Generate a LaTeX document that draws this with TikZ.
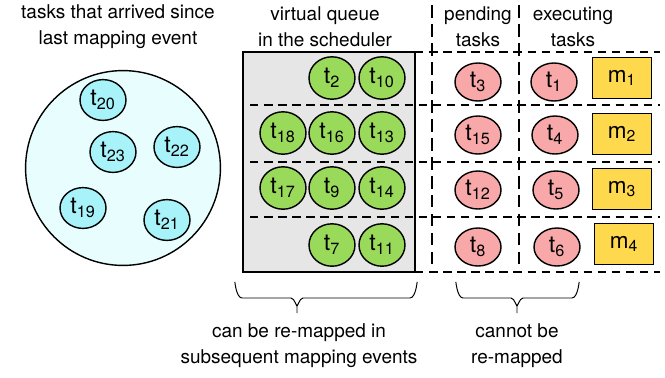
\documentclass[tikz,border=0pt]{standalone}
\usepackage{fontspec}
\setmainfont{TeX Gyre Heros}
\usetikzlibrary{shapes.geometric, decorations.pathreplacing, positioning}

\definecolor{newcyan}{HTML}{A8F3FA}
\definecolor{poolcyan}{HTML}{E8FDFD}
\definecolor{queuegreen}{HTML}{9ADA5B}
\definecolor{taskred}{HTML}{F8A8A8}
\definecolor{machyellow}{HTML}{FFD94D}
\definecolor{queuegray}{HTML}{E6E6E6}

\tikzstyle{label} = [align=center, font=\fontsize{13.5}{18.5}\selectfont]
\tikzstyle{task} = [ellipse, draw=black, line width=1pt, minimum width=1.15cm, minimum height=1.02cm, inner sep=0pt, font=\fontsize{16.5}{18}\selectfont]
\tikzstyle{newtask} = [task, fill=newcyan]
\tikzstyle{queued} = [task, fill=queuegreen, minimum height=1.06cm]
\tikzstyle{running} = [task, fill=taskred, minimum height=0.95cm]
\tikzstyle{machine} = [rectangle, draw=black, line width=1pt, fill=machyellow, minimum width=1.47cm, minimum height=1.02cm, inner sep=0pt, font=\fontsize{16}{18}\selectfont]
\tikzstyle{rowline} = [dashed, dash pattern=on 6pt off 4pt, line width=0.8pt]
\tikzstyle{colline} = [dash pattern=on 9pt off 4.5pt, line width=2pt]
\tikzstyle{bracepath} = [line width=0.7pt]

\newcommand{\tsk}[1]{t\textsubscript{#1}}

\begin{document}
\begin{tikzpicture}[x=0.025cm, y=0.025cm, yscale=-1]
\useasboundingbox (0,0) rectangle (665,377);

% headings
\node at (118, 27) (newtitle) [label] {tasks that arrived since\\last mapping event};
\node at (325, 27) (queuetitle) [label] {virtual queue\\in the scheduler};
\node at (478, 27) (pendtitle) [label] {pending\\tasks};
\node at (573, 27) (exectitle) [label] {executing\\tasks};

% arrived tasks
\node at (123, 168) (pool) [circle, draw=black, line width=1pt, fill=poolcyan, minimum size=4.87cm] {};
\node at (103, 100) (t20) [newtask] {\tsk{20}};
\node at (113, 152) (t23) [newtask] {\tsk{23}};
\node at (177, 147) (t22) [newtask] {\tsk{22}};
\node at (83, 208) (t19) [newtask] {\tsk{19}};
\node at (167, 220) (t21) [newtask] {\tsk{21}};

% virtual queue
\draw [line width=1pt, fill=queuegray] (243, 52) rectangle (415, 272);
\draw [rowline] (415, 52) -- (660, 52);
\draw [rowline] (250, 105) -- (660, 105);
\draw [rowline] (250, 162) -- (660, 162);
\draw [rowline] (250, 217) -- (660, 217);
\draw [rowline] (415, 272) -- (660, 272);
\draw [colline] (432, 5) -- (432, 272);
\draw [colline] (519, 5) -- (519, 272);

\node at (332, 78) (t2) [queued] {\tsk{2}};
\node at (382, 78) (t10) [queued] {\tsk{10}};
\node at (283, 133) (t18) [queued] {\tsk{18}};
\node at (332, 133) (t16) [queued] {\tsk{16}};
\node at (382, 133) (t13) [queued] {\tsk{13}};
\node at (283, 188) (t17) [queued] {\tsk{17}};
\node at (332, 188) (t9) [queued] {\tsk{9}};
\node at (382, 188) (t14) [queued] {\tsk{14}};
\node at (332, 245) (t7) [queued] {\tsk{7}};
\node at (382, 245) (t11) [queued] {\tsk{11}};

% pending and executing tasks
\node at (478, 82) (t3) [running] {\tsk{3}};
\node at (478, 135) (t15) [running] {\tsk{15}};
\node at (478, 190) (t12) [running] {\tsk{12}};
\node at (478, 247) (t8) [running] {\tsk{8}};
\node at (554, 82) (t1) [running] {\tsk{1}};
\node at (555, 135) (t4) [running] {\tsk{4}};
\node at (556, 190) (t5) [running] {\tsk{5}};
\node at (557, 247) (t6) [running] {\tsk{6}};

% machines
\node at (622, 78) (m1) [machine] {m\textsubscript{1}};
\node at (622, 134) (m2) [machine] {m\textsubscript{2}};
\node at (622, 189) (m3) [machine] {m\textsubscript{3}};
\node at (624, 244) (m4) [machine] {m\textsubscript{4}};

% braces
\coordinate (remapL) at (235, 283);
\coordinate (remapR) at (417, 283);
\coordinate (remapTip) at (297, 313);
\coordinate (fixedL) at (456, 283);
\coordinate (fixedR) at (579, 283);
\coordinate (fixedTip) at (517, 313);
\draw [bracepath] (remapL) to[out=-95, in=180] ++(7, 15) -- (291, 298) to[out=0, in=90] (297, 305) -- (remapTip);
\draw [bracepath] (remapR) to[out=-85, in=0] ++(-7, 15) -- (303, 298) to[out=180, in=90] (297, 305);
\draw [bracepath] (fixedL) to[out=-95, in=180] ++(7, 15) -- (511, 298) to[out=0, in=90] (517, 305) -- (fixedTip);
\draw [bracepath] (fixedR) to[out=-85, in=0] ++(-7, 15) -- (523, 298) to[out=180, in=90] (517, 305);
\node at (299, 346) (remaptext) [label] {can be re-mapped in\\subsequent mapping events};
\node at (517, 346) (fixedtext) [label] {cannot be\\re-mapped};

\end{tikzpicture}
\end{document}
